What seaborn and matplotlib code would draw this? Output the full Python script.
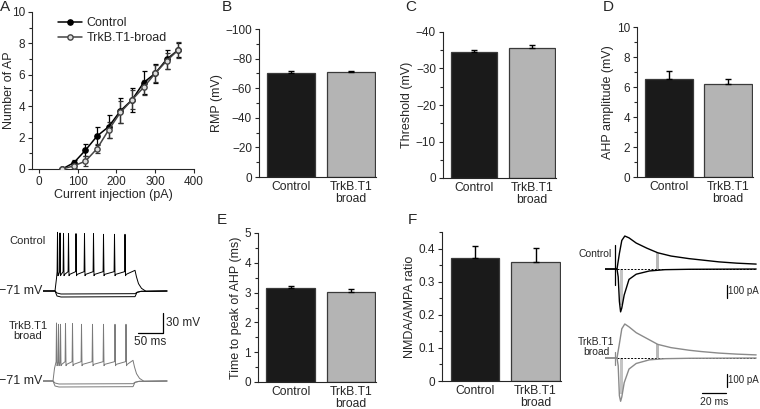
import matplotlib
matplotlib.use('Agg')
import matplotlib.pyplot as plt
import seaborn as sns
import pandas as pd
from matplotlib.ticker import MultipleLocator

# ---- panel A: number of APs vs current injection
current_pa = [60, 90, 120, 150, 180, 210, 240, 270, 300, 330, 360]
ap_ctrl = [0, 0.4, 1.2, 2.1, 2.7, 3.7, 4.4, 5.5, 6.1, 7.0, 7.6]
ap_ctrl_err = [0.05, 0.2, 0.4, 0.6, 0.75, 0.8, 0.75, 0.75, 0.6, 0.6, 0.45]
ap_trk = [0, 0.2, 0.5, 1.3, 2.5, 3.6, 4.4, 5.2, 6.1, 6.9, 7.6]
ap_trk_err = [0.05, 0.15, 0.3, 0.3, 0.5, 0.7, 0.6, 0.5, 0.55, 0.5, 0.5]

# ---- bar panels (Control, TrkB.T1 broad)
groups = ['Control', 'TrkB.T1\nbroad']
rmp = [-70.5, -70.8]
rmp_err = [1.1, 0.6]
threshold = [-34.6, -35.5]
threshold_err = [0.5, 0.9]
ahp_amp = [6.55, 6.2]
ahp_amp_err = [0.5, 0.33]
ahp_time = [3.14, 3.03]
ahp_time_err = [0.08, 0.09]
nmda_ampa = [0.372, 0.358]
nmda_ampa_err = [0.035, 0.043]

# ---- example AP firing traces (ms, mV)
ctrl_onset, ctrl_offset = 24, 184
ctrl_spike_t = [29, 34, 41, 51, 66, 83, 101, 121, 143, 164]
ctrl_spike_peak = [17, 16, 15, 15, 15, 15, 15, 14, 14, 14]
trk_onset, trk_offset = 20, 180
trk_spike_t = [27, 31, 35, 45, 59, 77, 99, 121, 144, 166]
trk_spike_peak = [16, 14, 14, 15, 15, 14, 14, 14, 14, 14]
hyper_levels = [-75.5, -80]
rest_mv = -71
trace_end = 248

# ---- EPSC traces (ms, pA): +40 mV (NMDA) and -70 mV (AMPA)
epsc_t = [0, 10, 12, 14, 16.5, 20, 26, 35, 44, 55, 70, 80, 95, 110, 126]
ctrl_up = [0, 0, 120, 220, 254, 240, 200, 160, 125, 100, 80, 70, 55, 45, 38]
trk_up = [0, 0, 110, 225, 262, 240, 195, 150, 105, 80, 60, 50, 38, 30, 24]
ampa_t = [0, 10, 11, 12, 13, 14, 16, 20, 26, 37, 50, 70, 126]
ctrl_dn = [0, 0, -60, -250, -330, -300, -200, -80, -40, -15, -5, -2, 0]
trk_dn = [0, 0, -60, -290, -333, -300, -190, -85, -42, -14, -5, -2, 0]

sns.set_style('ticks')
plt.rcParams['font.family'] = ['Liberation Sans', 'DejaVu Sans']
plt.rcParams['axes.linewidth'] = 0.8
plt.rcParams['xtick.major.size'] = 3
plt.rcParams['ytick.major.size'] = 3
plt.rcParams['ytick.minor.size'] = 2
plt.rcParams['xtick.major.width'] = 0.8
plt.rcParams['ytick.major.width'] = 0.8
plt.rcParams['ytick.minor.width'] = 0.8

W, H = 760, 409
fig = plt.figure(figsize=(W / 100, H / 100), dpi=100)


def px_axes(l, r, t, b):
    return fig.add_axes([l / W, 1 - b / H, (r - l) / W, (b - t) / H])


def letter(x, y, s):
    fig.text(x / W, 1 - y / H, s, fontsize=11, ha='center', va='center')


fs = 8.5

# ---------------- panel A
ax = px_axes(32, 194, 12, 169)
ax.errorbar(current_pa, ap_ctrl, yerr=ap_ctrl_err, fmt='none', ecolor='black',
            elinewidth=0.9, capsize=1.8, capthick=0.9, zorder=2)
ax.errorbar(current_pa, ap_trk, yerr=ap_trk_err, fmt='none', ecolor='#333333',
            elinewidth=0.9, capsize=1.8, capthick=0.9, zorder=2)
ax.plot(current_pa, ap_ctrl, '-o', color='black', lw=1.1, ms=3.8,
        mfc='black', mec='black', label='Control', zorder=3)
ax.plot(current_pa, ap_trk, '-o', color='#444444', lw=1.1, ms=3.8,
        mfc='#dddddd', mec='#444444', label='TrkB.T1-broad', zorder=3)
ax.set_xlim(-18, 400)
ax.set_ylim(0, 10)
ax.set_xticks([0, 100, 200, 300, 400])
ax.set_yticks([0, 2, 4, 6, 8, 10])
ax.yaxis.set_minor_locator(MultipleLocator(1))
ax.set_xlabel('Current injection (pA)', fontsize=9, labelpad=1)
ax.set_ylabel('Number of AP', fontsize=9)
ax.yaxis.set_label_coords(-0.105, 0.5)
ax.tick_params(labelsize=fs, pad=2)
ax.legend(loc='upper left', bbox_to_anchor=(0.13, 1.0), frameon=False,
          fontsize=9, handlelength=1.9, handletextpad=0.4, labelspacing=0.25,
          borderaxespad=0)
sns.despine(ax=ax)
letter(5, 7, 'A')


# ---------------- bar panels
def bar_panel(box, vals, errs, ylabel, ylim, ticks, minor, inverted=False, ticklabels=None):
    ax = px_axes(*box)
    df = pd.DataFrame({'group': groups, 'value': vals})
    sns.barplot(data=df, x='group', y='value', hue='group',
                palette=['#1a1a1a', '#b4b4b4'], legend=False, width=0.8,
                edgecolor='#3a3a3a', linewidth=0.9, ax=ax, zorder=2)
    if inverted:
        yerr = [errs, [0, 0]]
    else:
        yerr = [[0, 0], errs]
    ax.errorbar([0, 1], vals, yerr=yerr, fmt='none', ecolor='black',
                elinewidth=1.0, capsize=2.2, capthick=1.0, zorder=3)
    ax.set_xlim(-0.54, 1.42)
    ax.set_ylim(*ylim)
    ax.set_yticks(ticks)
    if ticklabels is not None:
        ax.set_yticklabels(ticklabels)
    ax.yaxis.set_minor_locator(MultipleLocator(minor))
    ax.set_xlabel('')
    ax.set_ylabel(ylabel, fontsize=9, labelpad=2)
    ax.tick_params(labelsize=fs, pad=2)
    ax.tick_params(axis='x', length=0, pad=3)
    ax.set_xticks([0, 1])
    ax.set_xticklabels(groups, fontsize=8.7, linespacing=0.95)
    sns.despine(ax=ax)
    return ax


bar_panel((259, 376, 29, 177), rmp, rmp_err, 'RMP (mV)', (0, -100),
          [0, -20, -40, -60, -80, -100], 10, inverted=True)
letter(227, 7, 'B')
bar_panel((443, 556, 32, 178), threshold, threshold_err, 'Threshold (mV)', (0, -40),
          [0, -10, -20, -30, -40], 5, inverted=True)
letter(411, 7, 'C')
bar_panel((637, 753, 27, 177), ahp_amp, ahp_amp_err, 'AHP amplitude (mV)', (0, 10),
          [0, 2, 4, 6, 8, 10], 1)
letter(608, 7, 'D')
bar_panel((258, 376, 233, 382), ahp_time, ahp_time_err, 'Time to peak of AHP (ms)', (0, 5),
          [0, 1, 2, 3, 4, 5], 0.5)
letter(222, 220, 'E')
bar_panel((442, 561, 232, 381), nmda_ampa, nmda_ampa_err, 'NMDA/AMPA ratio', (0, 0.45),
          [0, 0.1, 0.2, 0.3, 0.4], 0.05, ticklabels=['0', '0.1', '0.2', '0.3', '0.4'])
letter(412, 220, 'F')


# ---------------- AP traces
def ap_trace(onset, offset, spikes, peaks):
    t = [0, onset, onset + 3]
    v = [rest_mv, rest_mv, -52]
    for s, p in zip(spikes, peaks):
        t += [s - 0.8, s, s + 1.0, s + 2.5]
        v += [-42, p, -48, -46]
    t += [offset, offset + 3, offset + 7, offset + 13, offset + 22, trace_end]
    v += [-40, -50, -60, -67, -71.5, rest_mv]
    return t, v


def hyper_trace(onset, offset, level):
    t = [0, onset, onset + 4, onset + 12, offset, offset + 4, offset + 12, trace_end]
    v = [rest_mv, rest_mv, level + 1.5, level, level + 0.5, -73, -71.5, rest_mv]
    return t, v


trace_sets = [
    ((43, 190, 215, 302), ctrl_onset, ctrl_offset, ctrl_spike_t, ctrl_spike_peak,
     'black', 'Control'),
    ((43, 190, 305, 392), trk_onset, trk_offset, trk_spike_t, trk_spike_peak,
     '#7a7a7a', 'TrkB.T1\nbroad'),
]
for box, on, off, st, sp, col, name in trace_sets:
    ax = px_axes(*box)
    for lv in hyper_levels:
        ht, hv = hyper_trace(on, off, lv)
        ax.plot(ht, hv, color=col, lw=0.7)
    tt, vv = ap_trace(on, off, st, sp)
    ax.plot(tt, vv, color=col, lw=0.7)
    ax.set_xlim(0, 294)
    ax.set_ylim(-87.5, 43)
    ax.axis('off')
    ax.text(-2, rest_mv, '\u221271 mV', fontsize=9, ha='right', va='center', clip_on=False)
    ax.text(-30, 4, name, fontsize=8, ha='center', va='center', clip_on=False,
            linespacing=1.05)
    if name != 'Control':
        ax.plot([190, 240, 240], [1, 1, 31], color='black', lw=0.9)
        ax.text(245, 16, '30 mV', fontsize=8.5, ha='left', va='center')
        ax.text(215, -3, '50 ms', fontsize=8.5, ha='center', va='top')

# ---------------- EPSC traces
epsc_sets = [
    ((605, 757, 232, 315), ctrl_up, ctrl_dn, 'black', 'Control', 185, -123),
    ((605, 757, 321, 404), trk_up, trk_dn, '#8a8a8a', 'TrkB.T1\nbroad', 46, -54),
]
for box, up, dn, col, name, art_top, art_bot in epsc_sets:
    ax = px_axes(*box)
    up_s = pd.Series(up, index=epsc_t)
    ax.fill_between([42.5, 45], [up_s.loc[44]] * 2, 0, color='#b8b8b8', lw=0)
    ax.fill_between([12.5, 15], [-280, -280], 0, color='#c4c4c4', lw=0)
    ax.plot([10, 126], [0, 0], color='black', lw=0.7, ls=(0, (2, 1.5)))
    ax.plot(epsc_t, up, color=col, lw=1.0)
    ax.plot(ampa_t, dn, color=col, lw=1.0)
    ax.plot([8.5, 8.5], [art_bot, art_top], color=col, lw=0.9)
    ax.set_xlim(0, 126.7)
    ax.set_ylim(-354, 285)
    ax.axis('off')
    if name == 'Control':
        ax.text(5.5, 115, name, fontsize=7.5, ha='right', va='center', clip_on=False)
    else:
        ax.text(-7.5, 85, name, fontsize=7.5, ha='center', va='center', clip_on=False,
                linespacing=1.05)
        ax.plot([80.8, 100.8], [-269, -269], color='black', lw=0.9)
        ax.text(91, -300, '20 ms', fontsize=7.5, ha='center', va='top', clip_on=False)
    ax.plot([101.7, 101.7], [-123, -223], color='black', lw=0.9)
    ax.text(102.5, -173, '100 pA', fontsize=7, ha='left', va='center', clip_on=False)

fig.savefig('out.png', dpi=100)
